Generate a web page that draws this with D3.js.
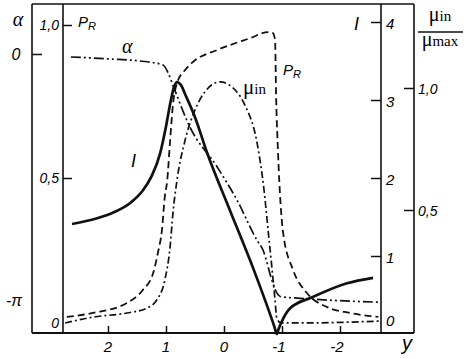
<!DOCTYPE html>
<html><head><meta charset="utf-8">
<script src="https://cdn.jsdelivr.net/npm/d3@7"></script>
<style>
html,body{margin:0;padding:0;background:#fff;}
svg{display:block;}
.it{font-family:"Liberation Sans",Arial,sans-serif;font-style:italic;}
.ser{font-family:"Liberation Serif","DejaVu Serif",serif;}
</style></head>
<body>
<script>
// ---- data ----
const xTicks = [2, 1, 0, -1, -2];
const xTickLabels = ["2", "1", "0", "-1", "-2"];
const prTicks = [1.0, 0.5, 0];
const prTickLabels = ["1,0", "0,5", "0"];
const iTicks = [4, 3, 2, 1, 0];
const iTickLabels = ["4", "3", "2", "1", "0"];
const muTicks = [1.0, 0.5];
const muTickLabels = ["1,0", "0,5"];
const alphaTicks = [0, -Math.PI];
const alphaTickLabels = ["0", "-\u03C0"];

// current I (solid)
const iY = [2.62, 2.2, 1.9, 1.6, 1.4, 1.25, 1.1, 1.0, 0.92, 0.86, 0.81, 0.75, 0.65, 0.50, 0.29, -0.10, -0.53, -0.87, -0.91, -0.94, -0.99, -1.14, -1.52, -2.12, -2.57];
const iV = [1.41, 1.48, 1.56, 1.69, 1.84, 2.02, 2.32, 2.66, 2.98, 3.17, 3.23, 3.20, 3.04, 2.78, 2.32, 1.59, 0.79, 0.09, 0.0, 0.06, 0.15, 0.33, 0.47, 0.65, 0.72];

// P_R (dashed)
const prY = [2.71, 2.26, 1.67, 1.40, 1.22, 1.14, 1.07, 1.02, 0.98, 0.93, 0.88, 0.81, 0.67, 0.53, 0.12, -0.45, -0.76, -0.84, -0.88, -0.90, -0.93, -1.02, -1.19, -1.43, -1.78, -2.17, -2.66];
const prV = [0.046, 0.059, 0.092, 0.134, 0.19, 0.255, 0.33, 0.44, 0.49, 0.62, 0.74, 0.81, 0.853, 0.88, 0.918, 0.957, 0.977, 0.974, 0.951, 0.755, 0.59, 0.32, 0.20, 0.124, 0.078, 0.059, 0.046];

// mu_in / mu_max (dash-dot)
const muY = [2.74, 2.26, 1.67, 1.33, 1.16, 1.02, 0.93, 0.88, 0.81, 0.67, 0.50, 0.33, 0.07, -0.19, -0.36, -0.57, -0.69, -0.76, -0.83, -0.88, -0.91, -0.98, -1.31, -2.71];
const muV = [0.037, 0.061, 0.078, 0.098, 0.131, 0.213, 0.348, 0.488, 0.623, 0.787, 0.91, 0.984, 1.025, 0.992, 0.93, 0.775, 0.582, 0.418, 0.254, 0.131, 0.057, 0.037, 0.037, 0.045];

// alpha (dash-dot-dot)
const alY = [2.64, 1.97, 1.45, 1.05, 0.97, 0.88, 0.59, 0.12, -0.22, -0.57, -0.67, -0.84, -0.91, -0.98, -1.31, -2.66];
const alV = [-0.038, -0.064, -0.089, -0.14, -0.23, -0.40, -0.93, -1.44, -1.86, -2.38, -2.50, -2.92, -3.05, -3.10, -3.12, -3.17];

// ---- layout ----
const W = 467, H = 359;
const xL1 = 32, xL2 = 63, xR1 = 381, xR2 = 414, yTop = 4, yBot = 333;

const svg = d3.select("body").append("svg").attr("width", W).attr("height", H);

const x = d3.scaleLinear().domain([2, -2]).range([108, 340]);
const yI = d3.scaleLinear().domain([0, 4]).range([334, 22]);
const yPR = d3.scaleLinear().domain([0, 1]).range([331, 25]);
const yMu = d3.scaleLinear().domain([0, 1]).range([332, 88]);
const yAl = d3.scaleLinear().domain([-Math.PI, 0]).range([300, 54]);

const ink = "#111";
// frame lines
const frame = svg.append("g").attr("stroke", ink).attr("stroke-width", 1.6).attr("fill", "none");
frame.append("line").attr("x1", xL1).attr("x2", xR2).attr("y1", yTop).attr("y2", yTop);
frame.append("line").attr("x1", xL1).attr("x2", xL1).attr("y1", yTop).attr("y2", yBot);
frame.append("line").attr("x1", xL2).attr("x2", xL2).attr("y1", yTop).attr("y2", yBot);
frame.append("line").attr("x1", xR1).attr("x2", xR1).attr("y1", yTop).attr("y2", yBot);
frame.append("line").attr("x1", xR2).attr("x2", xR2).attr("y1", yTop).attr("y2", yBot);

function styleAxis(g) {
  g.select(".domain").remove();
  g.selectAll(".tick line").attr("stroke", ink).attr("stroke-width", 1.5);
  g.selectAll(".tick text").remove();
}

// bottom axis
svg.append("g").attr("transform", `translate(0,${yBot})`)
  .call(d3.axisTop(x).tickValues(xTicks).tickSize(7)).call(styleAxis);
svg.append("line").attr("x1", xL1).attr("x2", xR2).attr("y1", yBot).attr("y2", yBot)
  .attr("stroke", ink).attr("stroke-width", 1.8);
svg.append("g").selectAll("text").data(xTicks).join("text")
  .attr("class", "it").attr("x", d => x(d)).attr("y", 352)
  .attr("text-anchor", "middle").attr("font-size", 15)
  .attr("dx", d => d < 0 ? -3 : 0)
  .text((d, i) => xTickLabels[i]);
svg.append("text").attr("class", "it").attr("x", 402).attr("y", 350).attr("font-size", 20).text("y");

// alpha axis (outer left)
svg.append("g").attr("transform", `translate(${xL1},0)`)
  .call(d3.axisRight(yAl).tickValues([0]).tickSize(10)).call(styleAxis);
svg.append("g").selectAll("text").data(alphaTicks).join("text")
  .attr("class", "it").attr("x", d => d === 0 ? 16 : 14).attr("y", d => yAl(d) + 6)
  .attr("text-anchor", "middle").attr("font-size", 16)
  .text((d, i) => alphaTickLabels[i]);
svg.append("text").attr("class", "ser").attr("font-style", "italic").attr("x", 18).attr("y", 26)
  .attr("text-anchor", "middle").attr("font-size", 20).text("\u03B1");

// P_R axis (inner left)
svg.append("g").attr("transform", `translate(${xL2},0)`)
  .call(d3.axisRight(yPR).tickValues([1.0, 0.5]).tickSize(9)).call(styleAxis);
svg.append("g").selectAll("text").data(prTicks).join("text")
  .attr("class", "it").attr("x", 59).attr("y", d => d === 0 ? 328 : yPR(d) + 5)
  .attr("text-anchor", "end").attr("font-size", 14)
  .text((d, i) => prTickLabels[i]);
const prAxisLab = svg.append("text").attr("class", "it").attr("x", 78).attr("y", 27).attr("font-size", 15);
prAxisLab.append("tspan").text("P");
prAxisLab.append("tspan").attr("font-size", 11).attr("dy", 3).text("R");

// I axis (inner right)
svg.append("g").attr("transform", `translate(${xR1},0)`)
  .call(d3.axisLeft(yI).tickValues([4, 3, 2, 1]).tickSize(10)).call(styleAxis);
svg.append("g").selectAll("text").data(iTicks).join("text")
  .attr("class", "it").attr("x", 386).attr("y", d => d === 0 ? 326 : yI(d) + 7)
  .attr("font-size", 15)
  .text((d, i) => iTickLabels[i]);
svg.append("text").attr("class", "it").attr("x", 354).attr("y", 30).attr("font-size", 18).text("I");

// mu axis (outer right)
svg.append("g").attr("transform", `translate(${xR2},0)`)
  .call(d3.axisLeft(yMu).tickValues(muTicks).tickSize(10)).call(styleAxis);
svg.append("g").selectAll("text").data(muTicks).join("text")
  .attr("class", "it").attr("x", 418).attr("y", d => yMu(d) + 6)
  .attr("font-size", 14)
  .text((d, i) => muTickLabels[i]);
const num = svg.append("text").attr("class", "ser").attr("x", 440).attr("y", 21).attr("text-anchor", "middle").attr("font-size", 20);
num.append("tspan").text("\u03BC");
num.append("tspan").attr("font-size", 15).text("in");
svg.append("line").attr("x1", 418).attr("x2", 463).attr("y1", 32).attr("y2", 32).attr("stroke", ink).attr("stroke-width", 1.3);
const den = svg.append("text").attr("class", "ser").attr("x", 440).attr("y", 46).attr("text-anchor", "middle").attr("font-size", 20);
den.append("tspan").text("\u03BC");
den.append("tspan").attr("font-size", 15).text("max");

// ---- curves ----
const mk = (ys, vs) => ys.map((d, i) => [d, vs[i]]);
const lineFn = ys => d3.line().x(d => x(d[0])).y(d => ys(d[1])).curve(d3.curveMonotoneX);

svg.append("path").datum(mk(alY, alV)).attr("d", lineFn(yAl))
  .attr("fill", "none").attr("stroke", ink).attr("stroke-width", 1.7)
  .attr("stroke-dasharray", "10,3,2,3,2,3");
svg.append("path").datum(mk(muY, muV)).attr("d", lineFn(yMu))
  .attr("fill", "none").attr("stroke", ink).attr("stroke-width", 1.7)
  .attr("stroke-dasharray", "7,3,2,3");
svg.append("path").datum(mk(prY, prV)).attr("d", lineFn(yPR))
  .attr("fill", "none").attr("stroke", ink).attr("stroke-width", 1.8)
  .attr("stroke-dasharray", "7,4");
svg.append("path").datum(mk(iY, iV)).attr("d", lineFn(yI))
  .attr("fill", "none").attr("stroke", ink).attr("stroke-width", 2.7);

// curve labels
svg.append("text").attr("class", "ser").attr("font-style", "italic").attr("x", 122).attr("y", 53).attr("font-size", 20).text("\u03B1");
const muLab = svg.append("text").attr("class", "ser").attr("x", 243).attr("y", 94).attr("font-size", 21);
muLab.append("tspan").text("\u03BC");
muLab.append("tspan").attr("font-size", 15).text("in");
const prLab = svg.append("text").attr("class", "it").attr("x", 283).attr("y", 75).attr("font-size", 15);
prLab.append("tspan").text("P");
prLab.append("tspan").attr("font-size", 11).attr("dy", 3).text("R");
svg.append("text").attr("class", "it").attr("x", 131).attr("y", 167).attr("font-size", 18).text("I");
</script>
</body></html>
